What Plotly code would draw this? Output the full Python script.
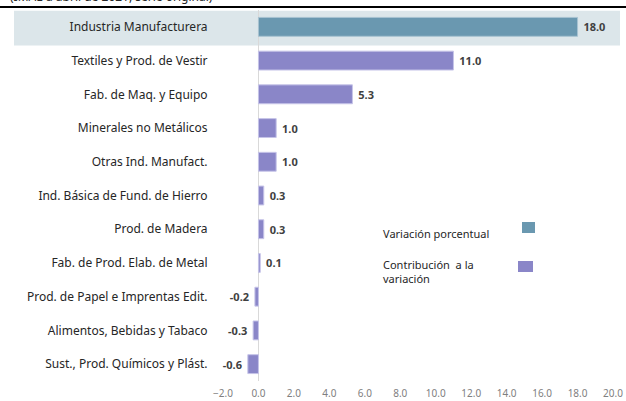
import plotly.graph_objects as go

categories = [
    "Industria Manufacturera",
    "Textiles y Prod. de Vestir",
    "Fab. de Maq. y Equipo",
    "Minerales no Metálicos",
    "Otras Ind. Manufact.",
    "Ind. Básica de Fund. de Hierro",
    "Prod. de Madera",
    "Fab. de Prod. Elab. de Metal",
    "Prod. de Papel e Imprentas Edit.",
    "Alimentos, Bebidas y Tabaco",
    "Sust., Prod. Químicos y Plást.",
]
values = [18.0, 11.0, 5.3, 1.0, 1.0, 0.3, 0.3, 0.1, -0.2, -0.3, -0.6]
legend_labels = ["Variación porcentual", "Contribución  a la<br>variación"]
subtitle = "(IMAE a abril de 2021, serie original)"
x_ticks = [-2, 0, 2, 4, 6, 8, 10, 12, 14, 16, 18, 20]

# labels padded slightly away from the bar ends
value_labels = [(f" {v:.1f}" if v >= 0 else f"{v:.1f} ") for v in values]

TEAL = "#6a98b0"
TEAL_LINE = "#a8c3d1"
PURPLE = "#8a86c8"
PURPLE_LINE = "#c6c4e8"
FONT = "Noto Sans"

colors = [TEAL] + [PURPLE] * (len(values) - 1)
line_colors = [TEAL_LINE] + [PURPLE_LINE] * (len(values) - 1)

fig = go.Figure()
fig.add_trace(go.Bar(
    y=categories,
    x=values,
    orientation="h",
    marker=dict(color=colors, line=dict(color=line_colors, width=1)),
    text=value_labels,
    textposition="outside",
    textfont=dict(family=FONT, size=11, color="#404040", weight="bold"),
    cliponaxis=False,
    showlegend=False,
    hoverinfo="skip",
))

W, H = 626, 401
ml, mr, mt, mb = 223, 13, 10, 20
pw = W - ml - mr
ph = H - mt - mb

def px_x(p):
    return (p - ml) / pw

def px_y(p):
    return 1 - (p - mt) / ph

shapes = [
    # highlight band behind first category
    dict(type="rect", xref="paper", yref="y", x0=px_x(14), x1=px_x(620),
         y0=-0.48, y1=0.55, fillcolor="#dce6ea", line=dict(width=0), layer="below"),
    # top rule
    dict(type="line", xref="paper", yref="paper", x0=px_x(0), x1=px_x(626),
         y0=px_y(7), y1=px_y(7), line=dict(color="black", width=2)),
    # legend swatches
    dict(type="rect", xref="paper", yref="paper", x0=px_x(522), x1=px_x(535),
         y0=px_y(233), y1=px_y(222), fillcolor=TEAL, line=dict(width=0)),
    dict(type="rect", xref="paper", yref="paper", x0=px_x(518), x1=px_x(533),
         y0=px_y(272), y1=px_y(261), fillcolor=PURPLE, line=dict(width=0)),
]

annotations = [
    dict(text=subtitle, xref="paper", yref="paper", x=px_x(8), y=px_y(-4),
         xanchor="left", yanchor="middle", showarrow=False,
         font=dict(family=FONT, size=12, color="#262626")),
    dict(text=legend_labels[0], xref="paper", yref="paper", x=px_x(381), y=px_y(233),
         xanchor="left", yanchor="middle", showarrow=False,
         font=dict(family=FONT, size=11, color="#262626")),
    dict(text=legend_labels[1], xref="paper", yref="paper", x=px_x(381), y=px_y(271),
         xanchor="left", yanchor="middle", showarrow=False, align="left",
         font=dict(family=FONT, size=11, color="#262626")),
]

fig.update_layout(
    width=W, height=H,
    margin=dict(l=ml, r=mr, t=mt, b=mb, autoexpand=False),
    paper_bgcolor="white",
    plot_bgcolor="rgba(0,0,0,0)",
    bargap=0.44,
    shapes=shapes,
    annotations=annotations,
    font=dict(family=FONT),
    xaxis=dict(
        range=[-2, 20], tickvals=x_ticks, tickformat=".1f", automargin=False,
        showgrid=False, zeroline=True, zerolinecolor="#d9d9d9", zerolinewidth=1.5,
        showline=False, ticks="outside", ticklen=3, tickcolor="rgba(0,0,0,0)",
        tickfont=dict(family=FONT, size=10, color="#808080"),
    ),
    yaxis=dict(
        autorange="reversed", showgrid=False, showline=False, automargin=False,
        ticks="outside", ticklen=12, tickcolor="rgba(0,0,0,0)",
        tickfont=dict(family=FONT, size=12, color="#262626"),
    ),
)

fig.write_html(
    "out.html",
    config={"displayModeBar": False, "staticPlot": True},
    post_script="document.body.style.margin='0';document.body.style.overflow='hidden';",
)
